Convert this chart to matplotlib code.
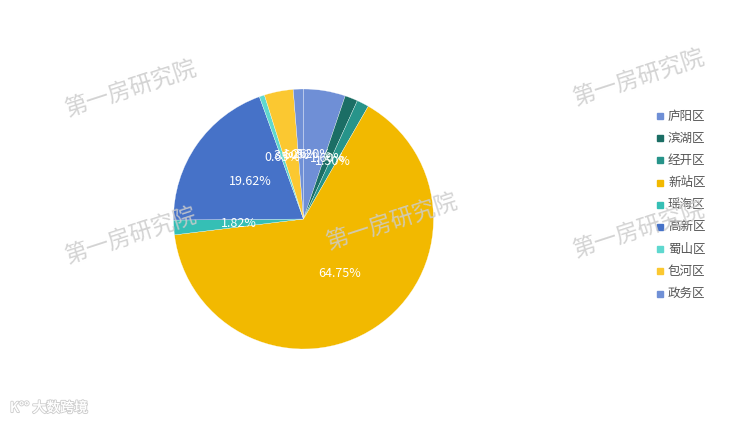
import matplotlib
matplotlib.use("Agg")
import matplotlib.pyplot as plt
import matplotlib.patheffects as pe

plt.rcParams['font.family'] = ['Noto Sans CJK SC', 'DejaVu Sans']

# data (clockwise from 12 o'clock)
districts = ["庐阳区", "滨湖区", "经开区", "新站区", "瑶海区", "高新区", "蜀山区", "包河区", "政务区"]
shares = [5.20, 1.60, 1.50, 64.75, 1.82, 19.62, 0.65, 3.60, 1.26]
colors = ["#6f8fd6", "#1b6e65", "#27948a", "#f2b900", "#35bfb5",
          "#4672c8", "#5fd8cf", "#fbc831", "#7090d6"]

W, H = 737, 425
fig = plt.figure(figsize=(W / 100, H / 100), dpi=100)

# pie centre ~ (303.5, 219) px, radius 130 px
cx, cy, r = 303.5, 219, 130
ax = fig.add_axes([(cx - r) / W, (H - cy - r) / H, 2 * r / W, 2 * r / H])
wedges, texts, autotexts = ax.pie(
    shares, colors=colors, startangle=90, counterclock=False,
    autopct="%.2f%%", pctdistance=0.5,
    wedgeprops=dict(edgecolor="white", linewidth=0.2),
    textprops=dict(color="white", fontsize=9),
)
ax.set_xlim(-1, 1)
ax.set_ylim(-1, 1)
ax.set_aspect("equal")
ax.axis("off")

# legend
lx, ly0, step = 660, 116, 22.2
for i, (name, c) in enumerate(zip(districts, colors)):
    y = 1 - (ly0 + i * step) / H
    fig.patches.append(plt.Rectangle((lx / W - 3 / W, y - 3 / H), 6 / W, 6 / H,
                                     transform=fig.transFigure, color=c))
    fig.text((lx + 8) / W, y, name, fontsize=9, color="#555555", va="center", ha="left")

# watermarks
for (x, y) in [(131, 89), (639, 78), (131, 236), (392, 222), (639, 230)]:
    fig.text(x / W, 1 - y / H, "第一房研究院", fontsize=16.5, color="#cccccc",
             alpha=0.85, rotation=18, ha="center", va="center", zorder=10)

# logo bottom-left
t = fig.text(10 / W, 1 - 408 / H, "K°° 大数跨境", fontsize=10, color="white",
             ha="left", va="center")
t.set_path_effects([pe.withStroke(linewidth=1.5, foreground="#d0d0d0"), pe.Normal()])

fig.savefig("out.png", dpi=100)
